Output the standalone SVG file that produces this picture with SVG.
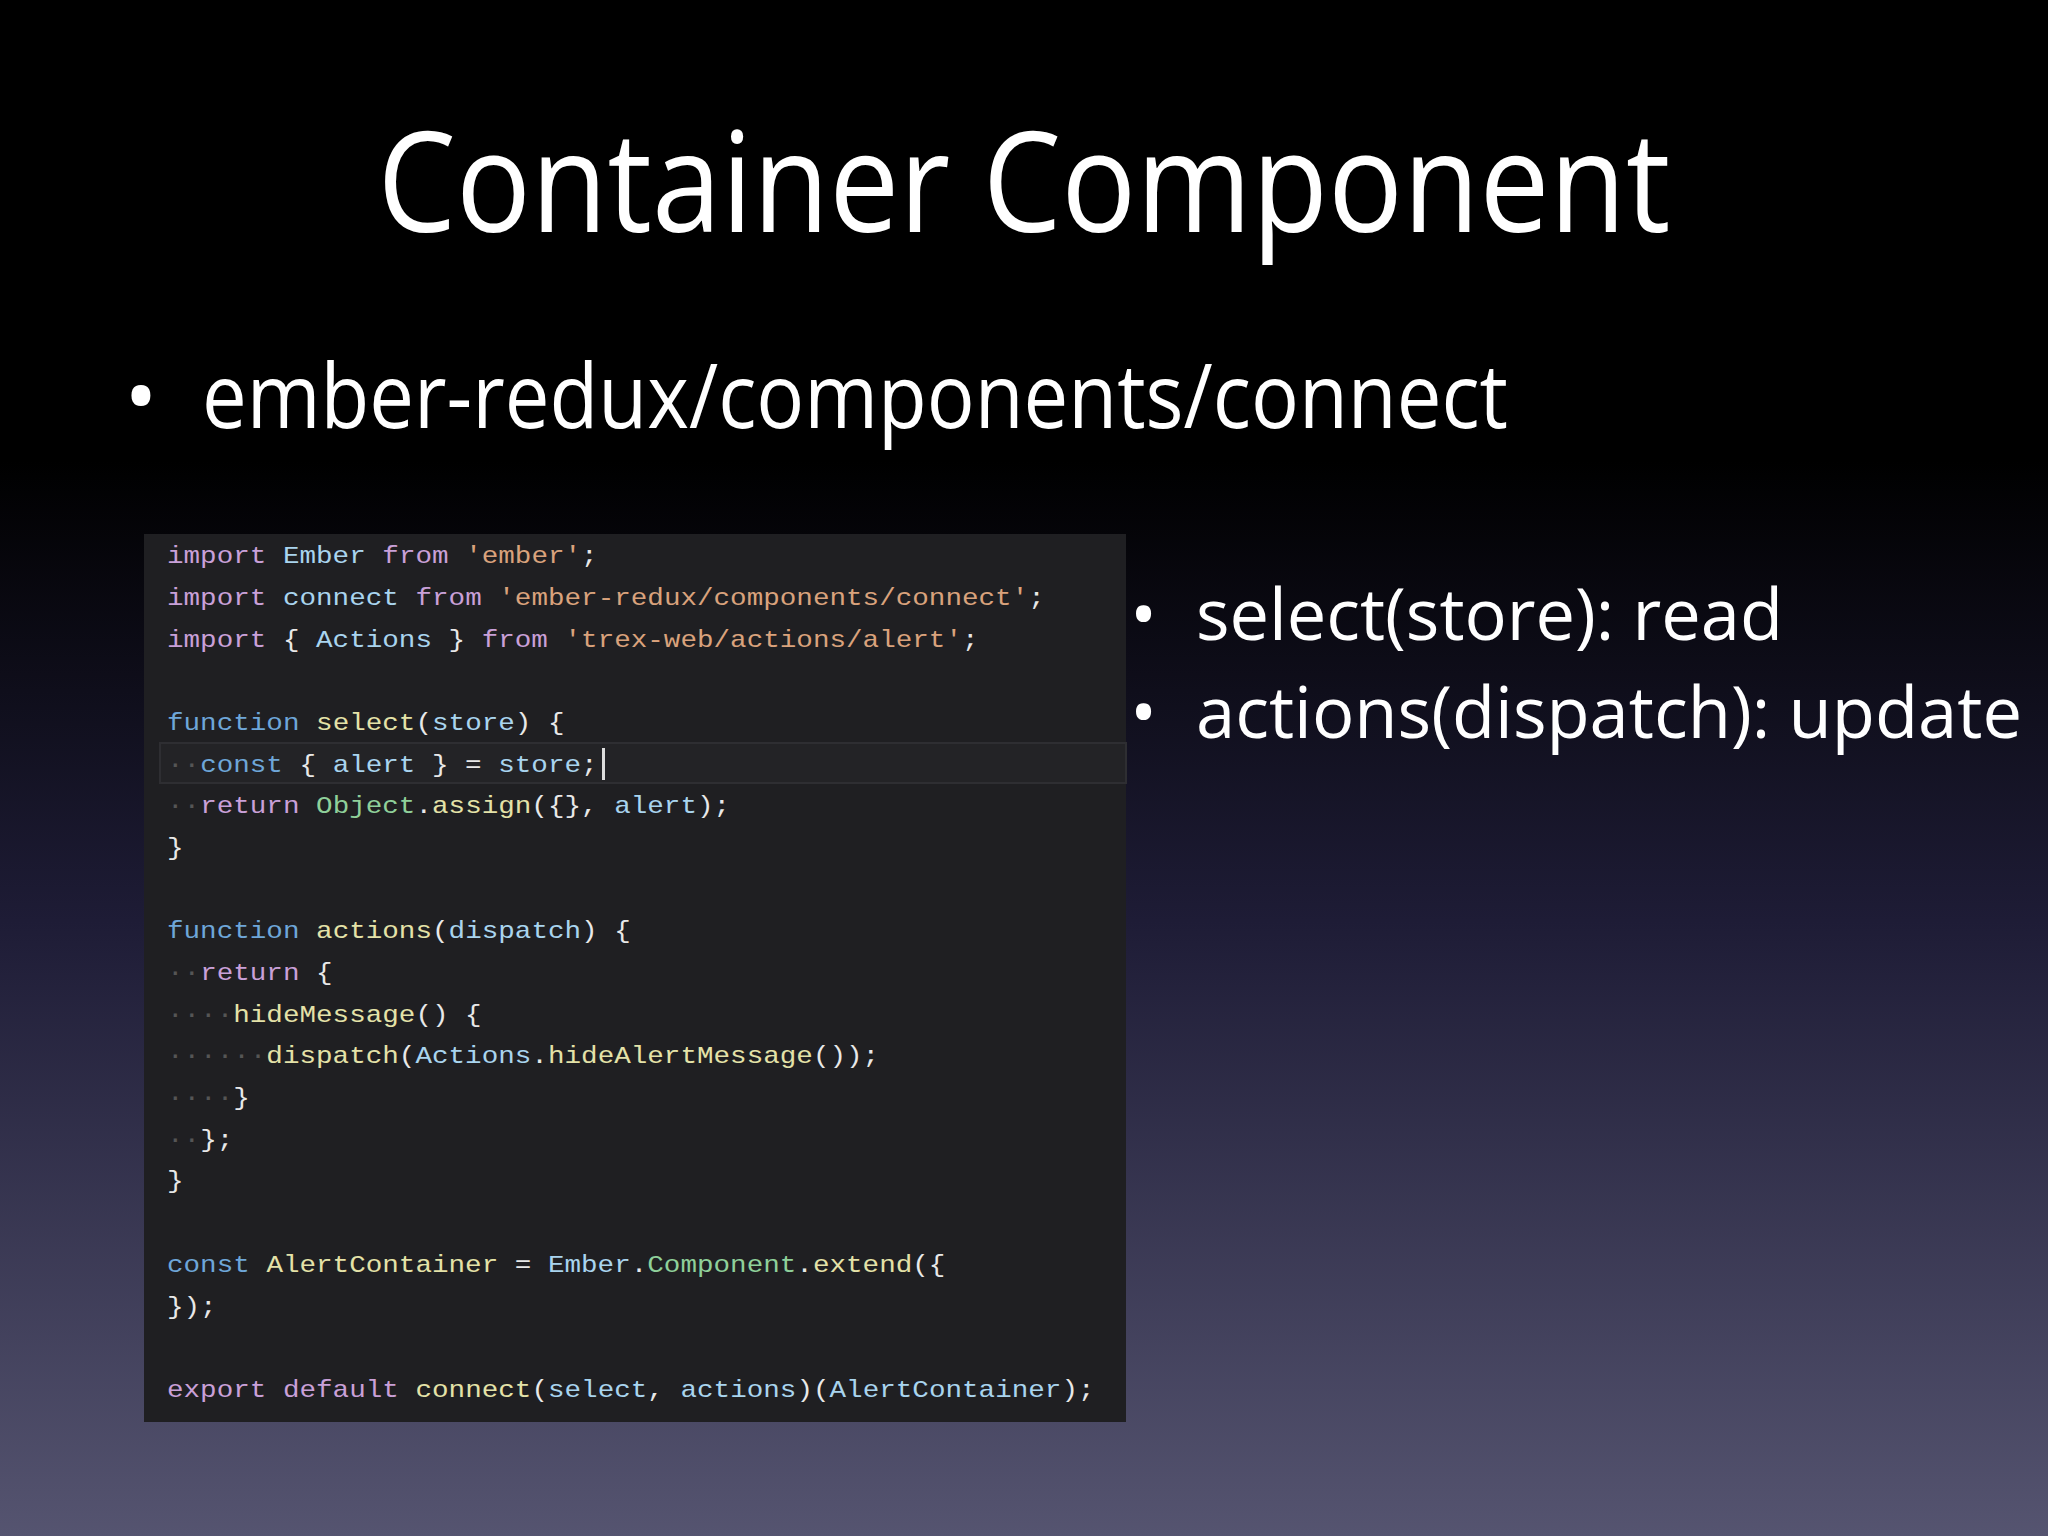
<svg xmlns="http://www.w3.org/2000/svg" width="2048" height="1536" viewBox="0 0 2048 1536">
<defs>
<linearGradient id="bg" x1="0" y1="0" x2="0" y2="1">
<stop offset="0" stop-color="#000"/>
<stop offset="0.3" stop-color="#000"/>
<stop offset="0.6" stop-color="#1e1c36"/>
<stop offset="1" stop-color="#555470"/>
</linearGradient>
<style>
.t{font-family:"Open Sans","Liberation Sans",sans-serif;fill:#fff}
.c{font-family:"Liberation Mono",monospace;font-size:24px;fill:#e8e8e8}
.k{fill:#c9a0d8}.n{fill:#a9d4ee}.s{fill:#d9a27c}.f{fill:#6ea6d8}.y{fill:#e4e2a8}.g{fill:#8fd09a}.d{fill:#555}
</style>
</defs>
<rect width="2048" height="1536" fill="url(#bg)"/>
<g id="title"><text class="t" x="1024" y="232" font-size="140" text-anchor="middle" textLength="1293" lengthAdjust="spacingAndGlyphs">Container Component</text></g>
<g id="bullet1"><text class="t" x="124" y="428" font-size="90">•</text><text class="t" x="202" y="428" font-size="90" textLength="1306" lengthAdjust="spacingAndGlyphs">ember-redux/components/connect</text></g>
<g id="bullet2"><text class="t" x="1130" y="640" font-size="72">•</text><text class="t" x="1196" y="640" font-size="72" textLength="587" lengthAdjust="spacingAndGlyphs">select(store): read</text>
<text class="t" x="1130" y="738" font-size="72">•</text><text class="t" x="1196" y="738" font-size="72" textLength="826" lengthAdjust="spacingAndGlyphs">actions(dispatch): update</text></g>
<g id="code">
<rect x="144" y="534" width="982" height="888" fill="#1f1f22"/>
<rect x="160" y="743" width="966" height="40" fill="#232326" stroke="#2e2e32" stroke-width="2"/>
<rect x="602" y="748" width="3" height="32" fill="#ddd"/>
<g transform="translate(167,0) scale(1.15,1)" class="c" xml:space="preserve">
<text y="563"><tspan class="k">import</tspan> <tspan class="n">Ember</tspan> <tspan class="k">from</tspan> <tspan class="s">'ember'</tspan>;</text>
<text y="605"><tspan class="k">import</tspan> <tspan class="n">connect</tspan> <tspan class="k">from</tspan> <tspan class="s">'ember-redux/components/connect'</tspan>;</text>
<text y="647"><tspan class="k">import</tspan> { <tspan class="n">Actions</tspan> } <tspan class="k">from</tspan> <tspan class="s">'trex-web/actions/alert'</tspan>;</text>
<text y="730"><tspan class="f">function</tspan> <tspan class="y">select</tspan>(<tspan class="n">store</tspan>) {</text>
<text y="772"><tspan class="d">··</tspan><tspan class="f">const</tspan> { <tspan class="n">alert</tspan> } = <tspan class="n">store</tspan>;</text>
<text y="813"><tspan class="d">··</tspan><tspan class="k">return</tspan> <tspan class="g">Object</tspan>.<tspan class="y">assign</tspan>({}, <tspan class="n">alert</tspan>);</text>
<text y="855">}</text>
<text y="938"><tspan class="f">function</tspan> <tspan class="y">actions</tspan>(<tspan class="n">dispatch</tspan>) {</text>
<text y="980"><tspan class="d">··</tspan><tspan class="k">return</tspan> {</text>
<text y="1022"><tspan class="d">····</tspan><tspan class="y">hideMessage</tspan>() {</text>
<text y="1063"><tspan class="d">······</tspan><tspan class="y">dispatch</tspan>(<tspan class="n">Actions</tspan>.<tspan class="y">hideAlertMessage</tspan>());</text>
<text y="1105"><tspan class="d">····</tspan>}</text>
<text y="1147"><tspan class="d">··</tspan>};</text>
<text y="1188">}</text>
<text y="1272"><tspan class="f">const</tspan> <tspan class="y">AlertContainer</tspan> = <tspan class="n">Ember</tspan>.<tspan class="g">Component</tspan>.<tspan class="y">extend</tspan>({</text>
<text y="1314">});</text>
<text y="1397"><tspan class="k">export</tspan> <tspan class="k">default</tspan> <tspan class="y">connect</tspan>(<tspan class="n">select</tspan>, <tspan class="n">actions</tspan>)(<tspan class="n">AlertContainer</tspan>);</text>
</g>
</g>
</svg>
